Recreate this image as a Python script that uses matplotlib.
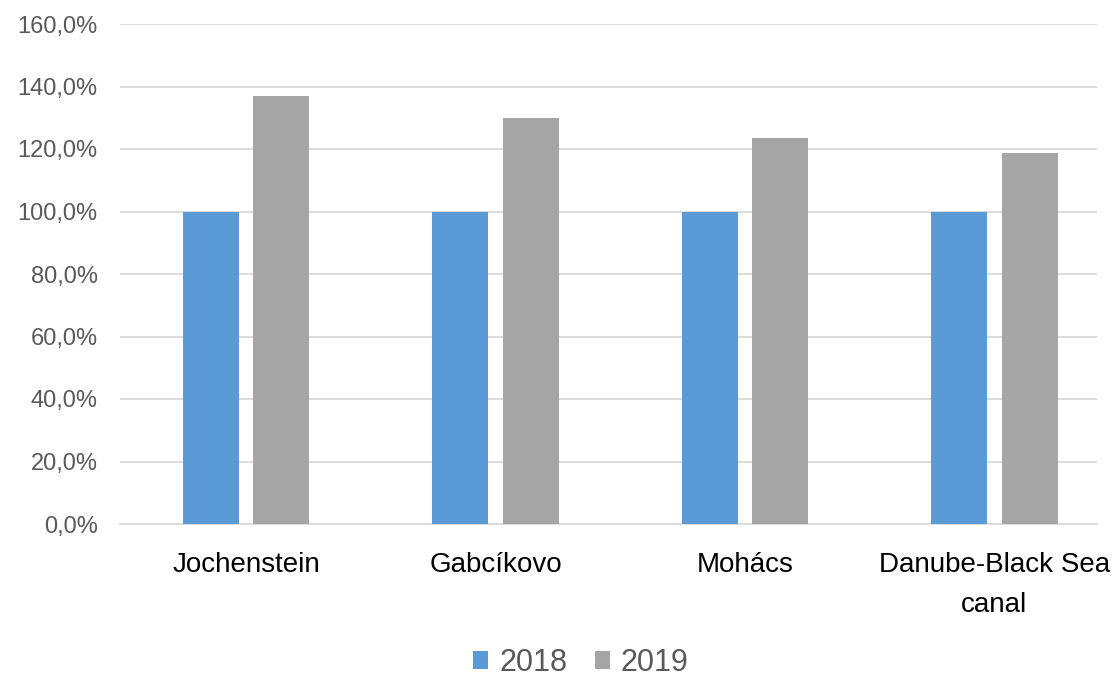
import numpy as np
import matplotlib.pyplot as plt
from matplotlib.ticker import FuncFormatter
from matplotlib import font_manager

categories = ["Jochenstein", "Gabcíkovo", "Mohács", "Danube-Black Sea\ncanal"]
years = ["2018", "2019"]
v2018 = [100.0, 100.0, 100.0, 100.0]
v2019 = [137.1, 130.0, 123.4, 118.7]

names = sorted({f.name for f in font_manager.fontManager.ttflist})
fam = 'Liberation Sans Narrow' if 'Liberation Sans Narrow' in names else 'Liberation Sans'
plt.rcParams['font.family'] = [fam, 'DejaVu Sans']

fig = plt.figure(figsize=(11.17, 6.81), dpi=100)
ax = fig.add_axes([120/1117, (681-524)/681, (1097-120)/1117, (524-24)/681])

x = np.arange(len(categories))
w = 0.224
ax.bar(x - 0.141, v2018, w, color="#5B9BD5", label=years[0], zorder=3)
ax.bar(x + 0.141, v2019, w, color="#A5A5A5", label=years[1], zorder=3)

ax.set_xlim(-0.505, 3.411)
ax.set_ylim(0, 160)
ax.set_yticks(np.arange(0, 161, 20))
ax.yaxis.set_major_formatter(FuncFormatter(lambda v, pos: f"{v:.1f}%".replace(".", ",")))
ax.grid(axis="y", color="#D9D9D9", linewidth=1.3, zorder=0)
for s in ["top", "right", "left"]:
    ax.spines[s].set_visible(False)
ax.spines["bottom"].set_color("#D9D9D9")
ax.spines["bottom"].set_linewidth(1.3)

ax.set_xticks(x)
ax.set_xticklabels(categories, fontsize=20, color="#000000", linespacing=1.7)
ax.tick_params(axis="x", length=0, pad=20)
ax.tick_params(axis="y", length=0, labelsize=17, labelcolor="#595959", pad=16)

fig.legend(loc="lower center", bbox_to_anchor=(0.52, 0.0), ncol=2, frameon=False,
           fontsize=22, handlelength=0.5, handleheight=0.5, handletextpad=0.35,
           columnspacing=0.9, labelcolor="#595959", borderaxespad=0.0, borderpad=0.1)

fig.savefig("out.png", dpi=100)
